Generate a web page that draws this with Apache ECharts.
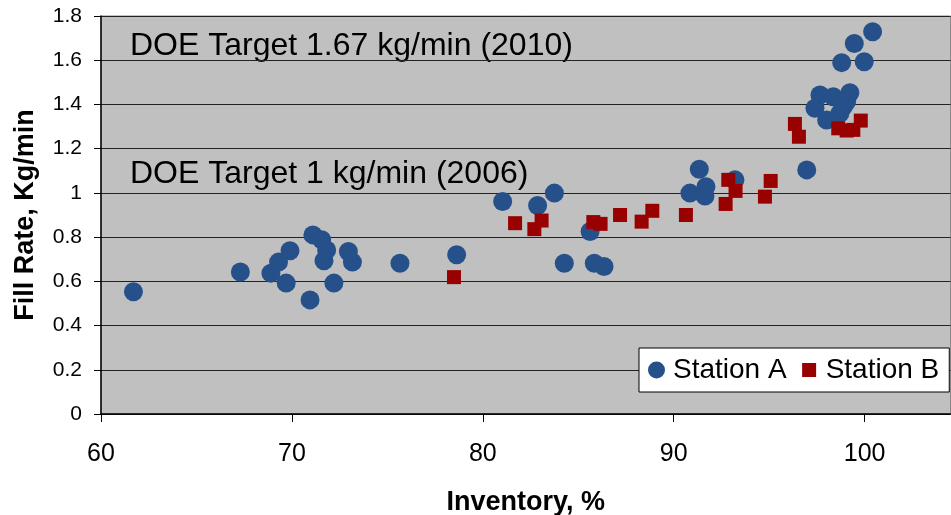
<!DOCTYPE html>
<html>
<head>
<meta charset="utf-8">
<script src="https://cdn.jsdelivr.net/npm/echarts@6/dist/echarts.min.js"></script>
<style>html,body{margin:0;padding:0;background:#fff;}#c{width:951px;height:515px;}</style>
</head>
<body>
<div id="c"></div>
<script>
// Station A (blue circles): inventory %, fill rate kg/min
var stationA_x = [61.7, 67.3, 68.9, 69.3, 69.9, 69.7, 71.1, 71.56, 71.82, 71.68, 72.96, 73.17, 72.2, 70.95,
  75.66, 78.63, 81.04, 82.87, 83.75, 84.27, 85.62, 85.84, 86.35,
  91.34, 90.85, 91.69, 91.64, 93.21, 96.97,
  100.42, 99.46, 98.8, 99.98, 97.66, 98.36, 99.23, 97.4, 98.89, 98.01, 98.71, 99.06];
var stationA_y = [0.553, 0.642, 0.637, 0.687, 0.738, 0.592, 0.81, 0.788, 0.742, 0.693, 0.735, 0.687, 0.592, 0.516,
  0.682, 0.72, 0.961, 0.943, 0.999, 0.682, 0.825, 0.682, 0.667,
  1.107, 0.999, 1.028, 0.986, 1.059, 1.104,
  1.729, 1.676, 1.589, 1.593, 1.443, 1.435, 1.453, 1.383, 1.39, 1.33, 1.36, 1.413];
// Station B (red squares)
var stationB_x = [78.49, 81.69, 82.7, 83.08, 85.79, 86.17, 87.19, 88.32, 88.88, 90.64, 92.72, 92.86, 93.24, 94.78, 95.08,
  96.35, 96.56, 98.62, 99.06, 99.41, 99.8];
var stationB_y = [0.619, 0.863, 0.836, 0.875, 0.868, 0.86, 0.9, 0.87, 0.919, 0.9, 0.95, 1.059, 1.009, 0.983, 1.054,
  1.312, 1.254, 1.292, 1.282, 1.285, 1.327];
var seriesNames = ['Station A', 'Station B'];
var annotations = ['DOE Target 1.67 kg/min (2010)', 'DOE Target 1 kg/min (2006)'];
var xAxisTitle = 'Inventory, %';
var yAxisTitle = 'Fill Rate, Kg/min';

function zip(xs, ys) { return xs.map(function (x, i) { return [x, ys[i]]; }); }

var FONT = '"Liberation Sans", Arial, sans-serif';
var chart = echarts.init(document.getElementById('c'), null, {renderer: 'canvas'});
chart.setOption({
  animation: false,
  textStyle: {fontFamily: FONT},
  grid: {left: 101, top: 16, right: 0.5, bottom: 101, containLabel: false, outerBoundsMode: 'none',
    show: true, backgroundColor: '#C0C0C0', borderColor: '#888', borderWidth: 1},
  xAxis: {
    type: 'value', min: 60, max: 104.5, interval: 10,
    name: xAxisTitle, nameLocation: 'middle', nameGap: 75,
    nameTextStyle: {fontFamily: FONT, fontSize: 27, fontWeight: 'bold', color: '#000'},
    axisLine: {show: true, onZero: false, lineStyle: {color: '#000', width: 1.5}},
    axisTick: {show: true, length: 8, lineStyle: {color: '#000'}},
    axisLabel: {fontFamily: FONT, fontSize: 25, color: '#000', margin: 28, showMaxLabel: false},
    splitLine: {show: false}
  },
  yAxis: {
    type: 'value', min: 0, max: 1.8, interval: 0.2,
    name: yAxisTitle, nameLocation: 'middle', nameGap: 62, nameRotate: 90,
    nameTextStyle: {fontFamily: FONT, fontSize: 27, fontWeight: 'bold', color: '#000'},
    axisLine: {show: true, lineStyle: {color: '#000', width: 1.5}},
    axisTick: {show: true, length: 7, lineStyle: {color: '#000'}},
    axisLabel: {fontFamily: FONT, fontSize: 21, color: '#000', margin: 19},
    splitLine: {show: true, lineStyle: {color: '#222', width: 1.2}}
  },
  legend: {
    left: 639, top: 348, orient: 'horizontal',
    backgroundColor: '#fff', borderColor: '#000', borderWidth: 1,
    padding: [8, 10, 8, 9], itemGap: 14, itemWidth: 17, itemHeight: 17,
    textStyle: {fontFamily: FONT, fontSize: 28, color: '#000', lineHeight: 27, padding: [0, 0, 0, 3]},
    data: [
      {name: seriesNames[0], icon: 'circle'},
      {name: seriesNames[1], icon: 'path://M0,0L0.01,0M17,17L16.99,17M1.5,1.5H15.5V15.5H1.5Z'}
    ]
  },
  graphic: [
    {type: 'text', left: 130, top: 30, style: {text: annotations[0], font: '32px ' + FONT, fill: '#000'}},
    {type: 'text', left: 130, top: 158, style: {text: annotations[1], font: '32px ' + FONT, fill: '#000'}}
  ],
  series: [
    {name: seriesNames[0], type: 'scatter', symbol: 'circle', symbolSize: 19,
      itemStyle: {color: '#26508A', opacity: 1}, data: zip(stationA_x, stationA_y)},
    {name: seriesNames[1], type: 'scatter', symbol: 'rect', symbolSize: 14,
      itemStyle: {color: '#990000', opacity: 1}, data: zip(stationB_x, stationB_y)}
  ]
});
</script>
</body>
</html>
